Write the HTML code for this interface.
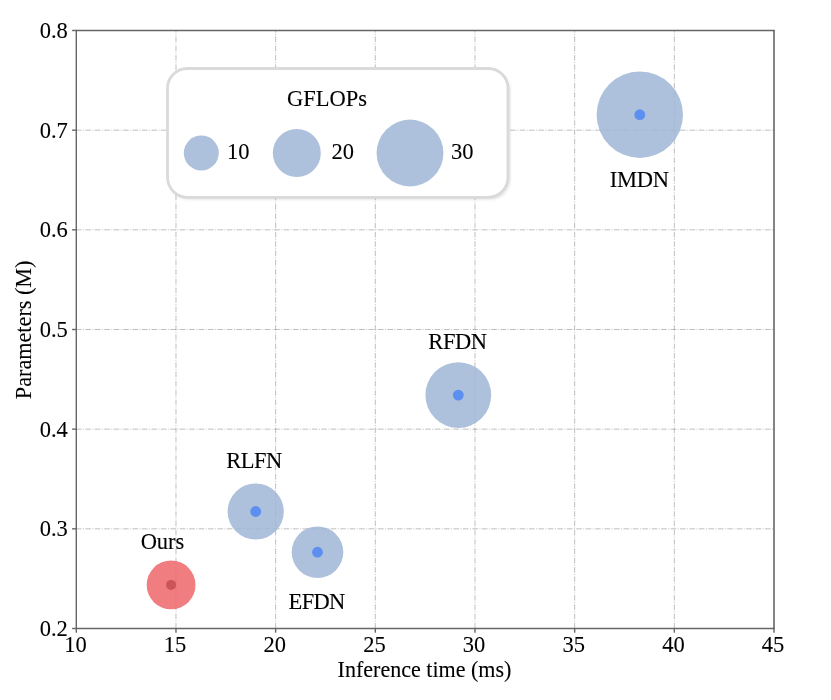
<!DOCTYPE html>
<html><head><meta charset="utf-8">
<style>
html,body{margin:0;padding:0;background:#fff;width:831px;height:700px;overflow:hidden}
svg{display:block;will-change:transform}
text{font-family:"Liberation Serif",serif;fill:#000;stroke:#000;stroke-width:0.1px}
</style></head><body>
<svg width="831" height="700" viewBox="0 0 831 700">
<defs>
<filter id="sh" x="-10%" y="-20%" width="120%" height="140%"><feGaussianBlur stdDeviation="1.6"/></filter>
<filter id="all" x="0" y="0" width="100%" height="100%"><feGaussianBlur stdDeviation="0.35"/></filter>
<filter id="bl" x="-5%" y="-10%" width="110%" height="120%"><feGaussianBlur stdDeviation="0.75"/></filter>
</defs>

<g filter="url(#all)">
<rect x="0" y="0" width="831" height="700" fill="#fff"/>
<g stroke="#8a8a8a" stroke-opacity="0.55" stroke-width="1" stroke-dasharray="5.6 1.5 0.9 1.44" fill="none">
<line x1="175.97" y1="628.5" x2="175.97" y2="30.5" stroke-dasharray="5.5 1.5 0.9 1.41"/>
<line x1="275.64" y1="628.5" x2="275.64" y2="30.5" stroke-dasharray="5.5 1.5 0.9 1.41"/>
<line x1="375.31" y1="628.5" x2="375.31" y2="30.5" stroke-dasharray="5.5 1.5 0.9 1.41"/>
<line x1="474.99" y1="628.5" x2="474.99" y2="30.5" stroke-dasharray="5.5 1.5 0.9 1.41"/>
<line x1="574.66" y1="628.5" x2="574.66" y2="30.5" stroke-dasharray="5.5 1.5 0.9 1.41"/>
<line x1="674.33" y1="628.5" x2="674.33" y2="30.5" stroke-dasharray="5.5 1.5 0.9 1.41"/>
<line x1="75.9" y1="528.83" x2="774.0" y2="528.83"/>
<line x1="75.9" y1="429.17" x2="774.0" y2="429.17"/>
<line x1="75.9" y1="329.50" x2="774.0" y2="329.50"/>
<line x1="75.9" y1="229.83" x2="774.0" y2="229.83"/>
<line x1="75.9" y1="130.17" x2="774.0" y2="130.17"/>
</g>
<circle cx="639.8" cy="114.7" r="43.2" fill="rgb(160,183,214)" fill-opacity="0.86"/>
<circle cx="639.8" cy="114.7" r="5.4" fill="#5b8ff0"/>
<circle cx="458.3" cy="395.1" r="32.9" fill="rgb(160,183,214)" fill-opacity="0.86"/>
<circle cx="458.3" cy="395.1" r="5.4" fill="#5b8ff0"/>
<circle cx="255.7" cy="511.5" r="28.1" fill="rgb(160,183,214)" fill-opacity="0.86"/>
<circle cx="255.7" cy="511.5" r="5.4" fill="#5b8ff0"/>
<circle cx="317.5" cy="552.2" r="25.8" fill="rgb(160,183,214)" fill-opacity="0.86"/>
<circle cx="317.5" cy="552.2" r="5.4" fill="#5b8ff0"/>
<circle cx="171.1" cy="584.9" r="24.4" fill="rgb(238,104,107)" fill-opacity="0.86"/>
<circle cx="171.1" cy="584.9" r="5" fill="#cc5459"/>
<text x="639.3" y="186.6" font-size="22.5" text-anchor="middle" letter-spacing="-0.25">IMDN</text>
<text x="457.5" y="349.4" font-size="22.5" text-anchor="middle" letter-spacing="-0.4">RFDN</text>
<text x="254.0" y="467.8" font-size="22.5" text-anchor="middle" letter-spacing="-0.45">RLFN</text>
<text x="162.5" y="549.2" font-size="22.5" text-anchor="middle" >Ours</text>
<text x="316.6" y="608.6" font-size="22.5" text-anchor="middle" letter-spacing="-0.7">EFDN</text>
<rect x="169.5" y="70.5" width="340.5" height="128.8" rx="20" fill="#000" fill-opacity="0.13" filter="url(#sh)"/>
<rect x="167.5" y="68.5" width="340.5" height="128.8" rx="20" fill="#fff"/>
<rect x="167.5" y="68.5" width="340.5" height="128.8" rx="20" fill="none" stroke="#dadada" stroke-width="2.8" filter="url(#bl)"/>
<text x="287.0" y="105.8" font-size="22.5" text-anchor="start" >GFLOPs</text>
<circle cx="201.3" cy="153" r="17.5" fill="rgb(160,183,214)" fill-opacity="0.86"/>
<text x="227.0" y="158.8" font-size="22.5" text-anchor="start" >10</text>
<circle cx="296.8" cy="153" r="24" fill="rgb(160,183,214)" fill-opacity="0.86"/>
<text x="331.5" y="158.8" font-size="22.5" text-anchor="start" >20</text>
<circle cx="410" cy="153" r="33.4" fill="rgb(160,183,214)" fill-opacity="0.86"/>
<text x="451.1" y="158.8" font-size="22.5" text-anchor="start" >30</text>
<g stroke="#666" fill="none" stroke-width="1.4">
<line x1="76.3" y1="30.5" x2="76.3" y2="628.5"/>
<line x1="75.6" y1="628.5" x2="774.7" y2="628.5"/>
<line x1="75.6" y1="30.5" x2="774.7" y2="30.5"/>
<line x1="774.0" y1="30.5" x2="774.0" y2="628.5" stroke="#505050"/>
<line x1="76.30" y1="628.5" x2="76.30" y2="632.7"/>
<line x1="175.97" y1="628.5" x2="175.97" y2="632.7"/>
<line x1="275.64" y1="628.5" x2="275.64" y2="632.7"/>
<line x1="375.31" y1="628.5" x2="375.31" y2="632.7"/>
<line x1="474.99" y1="628.5" x2="474.99" y2="632.7"/>
<line x1="574.66" y1="628.5" x2="574.66" y2="632.7"/>
<line x1="674.33" y1="628.5" x2="674.33" y2="632.7"/>
<line x1="774.00" y1="628.5" x2="774.00" y2="632.7"/>
<line x1="76.3" y1="628.50" x2="72.1" y2="628.50"/>
<line x1="76.3" y1="528.83" x2="72.1" y2="528.83"/>
<line x1="76.3" y1="429.17" x2="72.1" y2="429.17"/>
<line x1="76.3" y1="329.50" x2="72.1" y2="329.50"/>
<line x1="76.3" y1="229.83" x2="72.1" y2="229.83"/>
<line x1="76.3" y1="130.17" x2="72.1" y2="130.17"/>
<line x1="76.3" y1="30.50" x2="72.1" y2="30.50"/>
</g>
<text x="75.40" y="652.2" font-size="22.5" text-anchor="middle" >10</text>
<text x="175.07" y="652.2" font-size="22.5" text-anchor="middle" >15</text>
<text x="274.74" y="652.2" font-size="22.5" text-anchor="middle" >20</text>
<text x="374.41" y="652.2" font-size="22.5" text-anchor="middle" >25</text>
<text x="474.09" y="652.2" font-size="22.5" text-anchor="middle" >30</text>
<text x="573.76" y="652.2" font-size="22.5" text-anchor="middle" >35</text>
<text x="673.43" y="652.2" font-size="22.5" text-anchor="middle" >40</text>
<text x="773.10" y="652.2" font-size="22.5" text-anchor="middle" >45</text>
<text x="67.8" y="636.10" font-size="22.5" text-anchor="end" >0.2</text>
<text x="67.8" y="536.43" font-size="22.5" text-anchor="end" >0.3</text>
<text x="67.8" y="436.77" font-size="22.5" text-anchor="end" >0.4</text>
<text x="67.8" y="337.10" font-size="22.5" text-anchor="end" >0.5</text>
<text x="67.8" y="237.43" font-size="22.5" text-anchor="end" >0.6</text>
<text x="67.8" y="137.77" font-size="22.5" text-anchor="end" >0.7</text>
<text x="67.8" y="38.10" font-size="22.5" text-anchor="end" >0.8</text>
<text x="424.5" y="677.0" font-size="22.05" text-anchor="middle" >Inference time (ms)</text>
<text x="0" y="0" font-size="22.2" text-anchor="middle" transform="translate(30.9,329.85) rotate(-90)">Parameters (M)</text>
</g>
</svg></body></html>
